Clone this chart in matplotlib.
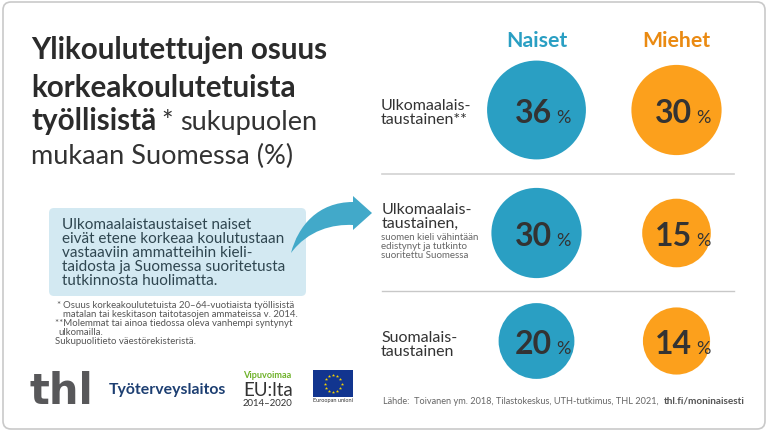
import numpy as np
import matplotlib
matplotlib.use("Agg")
import matplotlib.pyplot as plt
from matplotlib.patches import Circle, FancyBboxPatch, PathPatch, Rectangle
from matplotlib.path import Path

genders = ["Naiset", "Miehet"]
naiset = [36, 30, 20]
miehet = [30, 15, 14]

FONT = "Lato"
plt.rcParams["font.family"] = [FONT, "DejaVu Sans"]
BLUE, ORANGE, DARK, GREY = "#2a9fc3", "#fca01c", "#333333", "#666666"

fig = plt.figure(figsize=(7.68, 4.32), dpi=100)
ax = fig.add_axes([0, 0, 1, 1])
ax.set_xlim(0, 768)
ax.set_ylim(432, 0)
ax.axis("off")


def T(x, y, s, size, color=DARK, weight="normal", ha="left", va="baseline", **kw):
    return ax.text(x, y, s, fontsize=size, color=color, fontweight=weight, ha=ha, va=va, **kw)


ax.add_patch(FancyBboxPatch((9, 8), 750, 415, boxstyle="round,pad=6,rounding_size=8",
                            fc="white", ec="#c9c9c9", lw=1.2))

# Title
T(31, 59, "Ylikoulutettujen osuus", 21.3, "#2b2b2b", "bold")
T(31, 97, "korkeakoulutetuista", 21.3, "#2b2b2b", "bold")
T(31, 130, "työllisistä", 21.3, "#2b2b2b", "bold")
T(161, 130, "*", 19.5, "#333333")
T(180, 130, "sukupuolen", 19.5, "#333333")
T(31, 164, "mukaan Suomessa (%)", 19.5, "#333333")

# Call-out
ax.add_patch(FancyBboxPatch((54, 213), 247, 78, boxstyle="round,pad=5,rounding_size=5",
                            fc="#d3e9f2", ec="none"))
for y, s in zip([229, 243, 257, 271, 285],
                ["Ulkomaalaistaustaiset naiset", "eivät etene korkeaa koulutustaan",
                 "vastaaviin ammatteihin kieli-", "taidosta ja Suomessa suoritetusta",
                 "tutkinnosta huolimatta."]):
    T(62, y, s, 11.0, "#2f4650")

# Arrow
verts = [(291, 253), (298, 226), (318, 202), (353, 202), (353, 196), (372, 213), (353, 230), (353, 225),
         (333, 224), (308, 230), (291, 253), (291, 253)]
codes = [Path.MOVETO, Path.CURVE4, Path.CURVE4, Path.CURVE4, Path.LINETO, Path.LINETO, Path.LINETO,
         Path.LINETO, Path.CURVE4, Path.CURVE4, Path.CURVE4, Path.CLOSEPOLY]
ax.add_patch(PathPatch(Path(verts, codes), fc="#42a9c9", ec="none"))

# Footnotes
for x, y, s in [(56, 308, "*"), (63, 308, "Osuus korkeakoulutetuista 20–64-vuotiaista työllisistä"),
                (63, 317, "matalan tai keskitason taitotasojen ammateissa v. 2014."),
                (55, 326, "**Molemmat tai ainoa tiedossa oleva vanhempi syntynyt"),
                (58, 335, "ulkomailla."), (55, 344, "Sukupuolitieto väestörekisteristä.")]:
    T(x, y, s, 6.9, "#555555")

# Headers, circles
col_x = [536.5, 676.5]
row_y = [110, 233, 341]
T(col_x[0], 47, genders[0], 15.3, "#2a9fc3", "bold", ha="center")
T(col_x[1], 47, genders[1], 15.3, "#ea8a12", "bold", ha="center")
for cx, vals, col in zip(col_x, [naiset, miehet], [BLUE, ORANGE]):
    for cy, v in zip(row_y, vals):
        ax.add_patch(Circle((cx, cy), 23.5 + 0.72 * v, fc=col, ec="none"))
        T(cx - 3.5, cy + 13, str(v), 23, DARK, "bold", ha="center")
        T(cx + 26.5, cy + 13, "%", 13, DARK, "normal", ha="center")

# Row labels
T(381, 110, "Ulkomaalais-", 11.5)
T(381, 124, "taustainen**", 11.5)
T(382, 214, "Ulkomaalais-", 11.5)
T(382, 228, "taustainen,", 11.5)
T(381, 240, "suomen kieli vähintään", 7.0, GREY)
T(381, 249, "edistynyt ja tutkinto", 7.0, GREY)
T(381, 258, "suoritettu Suomessa", 7.0, GREY)
T(381, 342, "Suomalais-", 11.5)
T(381, 356, "taustainen", 11.5)

# Separators
ax.plot([382, 734], [174, 174], color="#d2d2d2", lw=1.2)
ax.plot([382, 734], [291, 291], color="#c8c8c8", lw=1.0)

# Source
T(383, 404, "Lähde:  Toivanen ym. 2018, Tilastokeskus, UTH-tutkimus, THL 2021,", 6.55, GREY)
T(664, 404, "thl.fi/moninaisesti", 7.2, "#555555", "bold")

# Logos
T(29, 404, "thl", 30, "#58585a", "bold", family="DejaVu Sans")
T(109, 394, "Työterveyslaitos", 11.4, "#1d3f72", "bold")
T(243, 378, "Vipuvoimaa", 6.6, "#6fb22a", "bold")
T(243, 396, "EU:lta", 13.5, "#333333")
T(243, 406, "2014–2020", 6.9, "#333333")
ax.add_patch(Rectangle((313, 370), 40, 27, fc="#12358f", ec="none"))
ang = np.deg2rad(np.arange(0, 360, 30))
ax.scatter(333 + 8.5 * np.cos(ang), 383.5 + 8.5 * np.sin(ang), marker="*", s=6, c="#f6d400", linewidths=0)
T(333, 402, "Euroopan unioni", 4, "#333333", ha="center")

fig.savefig("out.png", dpi=100)
